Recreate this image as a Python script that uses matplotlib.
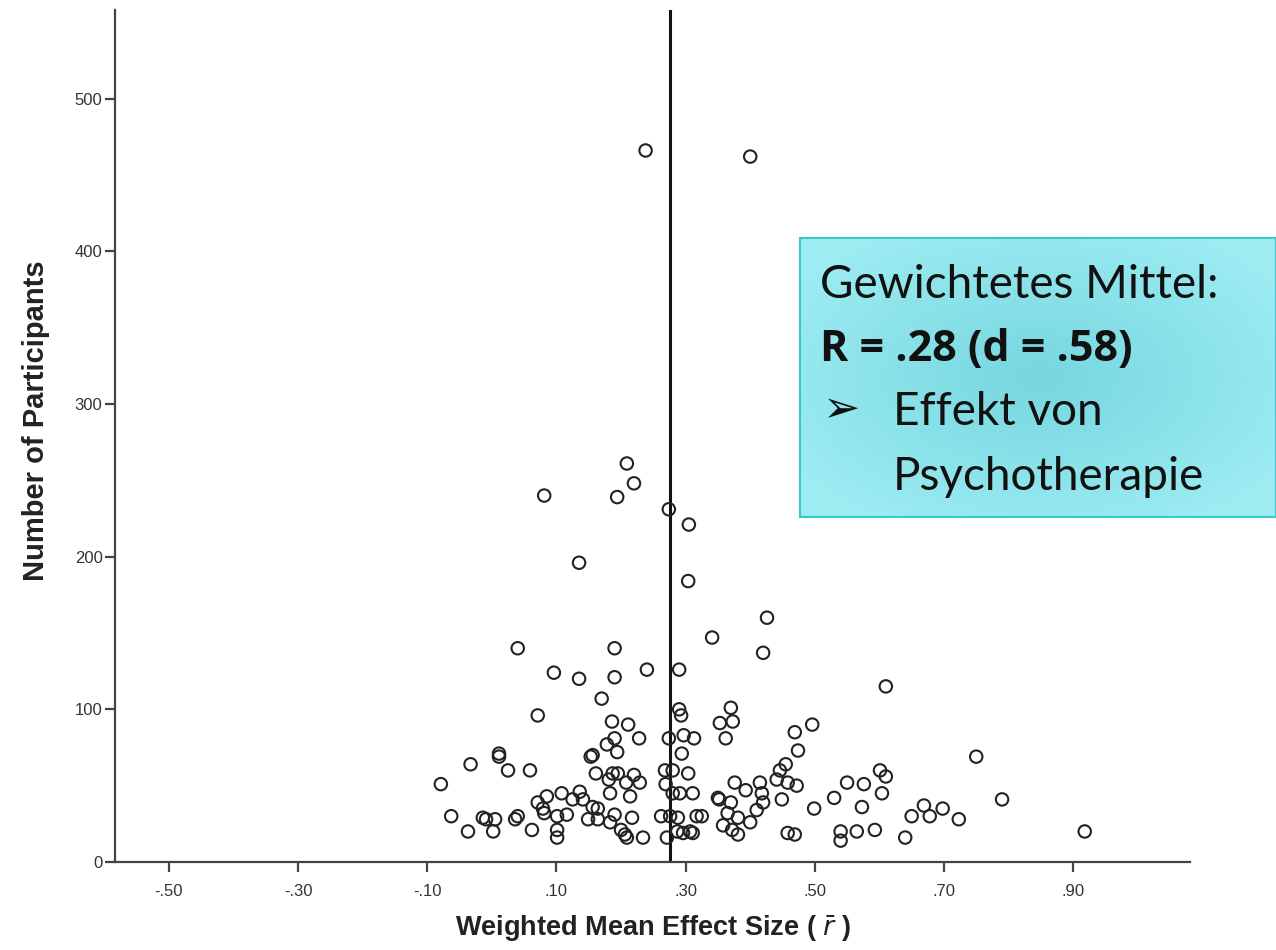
import numpy as np
import matplotlib
matplotlib.use("Agg")
import matplotlib.pyplot as plt

# ---- data ----
effect_size = [
    0.238, 0.400, 0.209, 0.220, 0.081, 0.194, 0.274, 0.305, 0.135, 0.304,
    0.426, 0.341, 0.420, 0.040, 0.190, 0.096, 0.135, 0.190, 0.240, 0.290,
    0.610, 0.170, 0.071, 0.290, 0.293, 0.370, 0.353, 0.373, 0.186, 0.211,
    0.496, 0.469, 0.228, 0.190, 0.274, 0.297, 0.313, 0.362, 0.178, 0.194,
    0.294, 0.474, 0.750, 0.011, 0.011, -0.033, 0.025, 0.059, 0.153, 0.156,
    0.161, 0.187, 0.195, 0.220, 0.208, 0.229, 0.214, 0.183, 0.181, 0.268,
    0.280, 0.304, 0.269, 0.280, 0.291, 0.311, -0.079, 0.071, 0.085, 0.108,
    0.136, 0.125, 0.141, 0.156, 0.164, 0.081, 0.101, 0.116, -0.063, -0.014,
    -0.009, 0.005, 0.036, 0.040, 0.079, 0.101, 0.101, 0.062, -0.037, 0.002,
    0.149, 0.164, 0.190, 0.183, 0.200, 0.206, 0.209, 0.217, 0.234, 0.262,
    0.276, 0.288, 0.271, 0.287, 0.296, 0.311, 0.317, 0.325, 0.307, 0.376,
    0.393, 0.415, 0.418, 0.420, 0.446, 0.455, 0.441, 0.458, 0.472, 0.449,
    0.350, 0.352, 0.370, 0.365, 0.381, 0.400, 0.410, 0.358, 0.372, 0.381,
    0.458, 0.469, 0.499, 0.530, 0.550, 0.576, 0.573, 0.601, 0.610, 0.604,
    0.540, 0.540, 0.565, 0.593, 0.640, 0.650, 0.669, 0.678, 0.698, 0.723,
    0.790, 0.918,
]
participants = [
    466, 462, 261, 248, 240, 239, 231, 221, 196, 184,
    160, 147, 137, 140, 140, 124, 120, 121, 126, 126,
    115, 107, 96, 100, 96, 101, 91, 92, 92, 90,
    90, 85, 81, 81, 81, 83, 81, 81, 77, 72,
    71, 73, 69, 71, 69, 64, 60, 60, 69, 70,
    58, 58, 58, 57, 52, 52, 43, 45, 54, 60,
    60, 58, 51, 45, 45, 45, 51, 39, 43, 45,
    46, 41, 41, 36, 35, 32, 30, 31, 30, 29,
    28, 28, 28, 30, 35, 21, 16, 21, 20, 20,
    28, 28, 31, 26, 21, 18, 16, 29, 16, 30,
    30, 29, 16, 20, 19, 19, 30, 30, 20, 52,
    47, 52, 45, 39, 60, 64, 54, 52, 50, 41,
    42, 41, 39, 32, 29, 26, 34, 24, 21, 18,
    19, 18, 35, 42, 52, 51, 36, 60, 56, 45,
    20, 14, 20, 21, 16, 30, 37, 30, 35, 28,
    41, 20,
]
weighted_mean = 0.276
x_ticks = [-0.50, -0.30, -0.10, 0.10, 0.30, 0.50, 0.70, 0.90]
x_tick_labels = ["-.50", "-.30", "-.10", ".10", ".30", ".50", ".70", ".90"]
y_ticks = [0, 100, 200, 300, 400, 500]

# ---- figure ----
W, H = 1276, 950
fig = plt.figure(figsize=(W / 100, H / 100), dpi=100)
ax = fig.add_axes([115 / W, 1 - 862 / H, (1190 - 115) / W, (862 - 10) / H])

ax.scatter(effect_size, participants, s=80, facecolors="none",
           edgecolors="#222222", linewidths=1.5, zorder=3)
ax.axvline(weighted_mean, color="#111111", lw=2.2, zorder=2)

ax.set_xlim(-0.5836, 1.081)
ax.set_ylim(0, 558)
ax.set_xticks(x_ticks)
ax.set_xticklabels(x_tick_labels)
ax.set_yticks(y_ticks)

for s in ["top", "right"]:
    ax.spines[s].set_visible(False)
for s in ["left", "bottom"]:
    ax.spines[s].set_color("#444444")
    ax.spines[s].set_linewidth(1.6)

ax.tick_params(axis="both", direction="out", length=7, width=1.6,
               color="#444444", labelsize=12, labelcolor="#333333",
               labelfontfamily="Liberation Sans")
ax.tick_params(axis="x", pad=9)
ax.tick_params(axis="y", pad=2)

ax.set_ylabel("Number of Participants", fontsize=21, fontweight="bold",
              family="Liberation Sans", color="#222222")
ax.yaxis.set_label_coords((50 - 115) / 1075, (862 - 421) / 852)
ax.set_xlabel(r"Weighted Mean Effect Size ( $\bar{\mathit{r}}$ )", fontsize=19.5,
              fontweight="bold", family="Liberation Sans", color="#222222")
ax.xaxis.set_label_coords((653 - 115) / 1075, (862 - 914) / 852)

# ---- annotation box with soft radial gradient ----
bx0, bx1, by0, by1 = 800, 1276, 238, 517
box_ax = fig.add_axes([bx0 / W, 1 - by1 / H, (bx1 - bx0) / W, (by1 - by0) / H])
gy, gx = np.mgrid[-1:1:200j, -1:1:300j]
r = np.clip(np.sqrt(gx ** 2 + gy ** 2) / 1.2, 0, 1)
c_in = np.array([0x76, 0xd6, 0xdf]) / 255
c_out = np.array([0x9c, 0xec, 0xf2]) / 255
img = c_in[None, None, :] * (1 - r[..., None]) + c_out[None, None, :] * r[..., None]
box_ax.imshow(img, aspect="auto", extent=[0, 1, 0, 1])
box_ax.set_xlim(0, 1)
box_ax.set_ylim(0, 1)
box_ax.set_xticks([])
box_ax.set_yticks([])
for s in box_ax.spines.values():
    s.set_color("#3cc6d0")
    s.set_linewidth(1.5)

fam = ["Lato", "DejaVu Sans"]
fs = 33
fig.text(820 / W, 1 - 285 / H, "Gewichtetes Mittel:", fontsize=fs,
         family=fam, va="center", ha="left", color="#111111")
fig.text(820 / W, 1 - 350 / H, "R = .28 (d = .58)", fontsize=31,
         family=["Open Sans", "Lato"], fontweight="bold", va="center",
         ha="left", color="#111111")
fig.text(822 / W, 1 - 410 / H, "\u27a2", fontsize=32, family=["DejaVu Sans"],
         va="center", ha="left", color="#111111")
fig.text(893 / W, 1 - 412 / H, "Effekt von", fontsize=fs,
         family=fam, va="center", ha="left", color="#111111")
fig.text(893 / W, 1 - 477 / H, "Psychotherapie", fontsize=fs,
         family=fam, va="center", ha="left", color="#111111")

fig.savefig("out.png", dpi=100)
